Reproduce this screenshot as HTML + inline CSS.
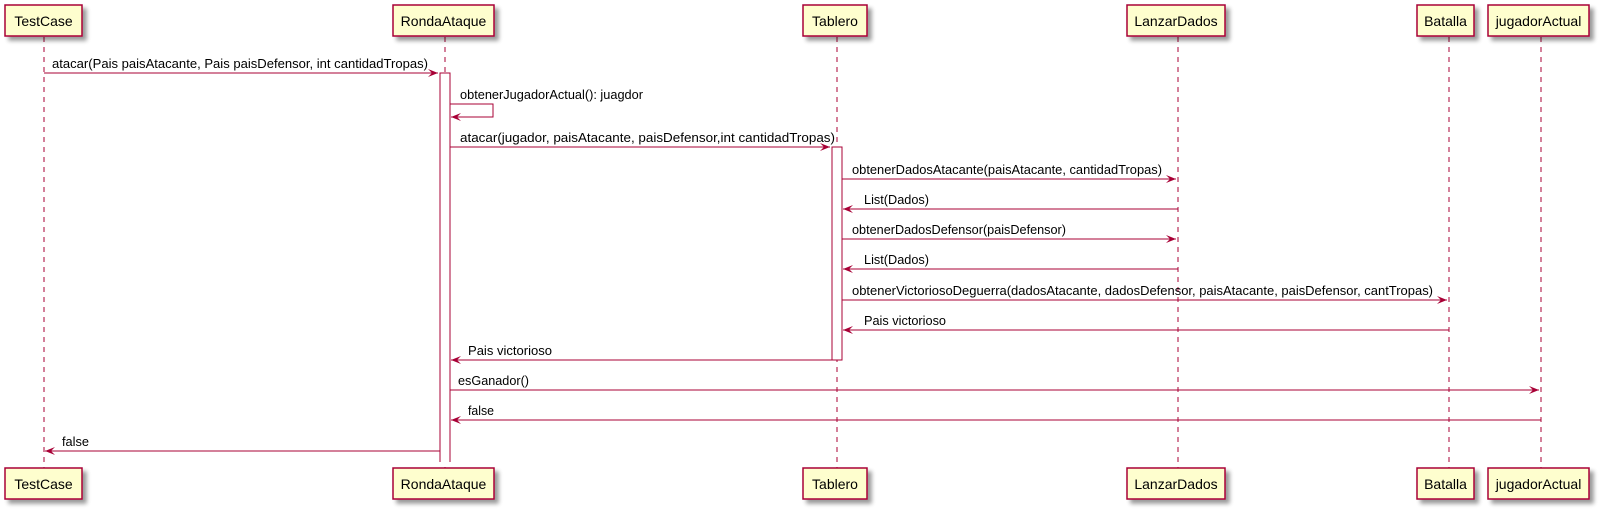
<!DOCTYPE html>
<html><head><meta charset="utf-8"><style>
html,body{margin:0;padding:0;background:#fff;}
svg{display:block;}
text{font-family:"Liberation Sans",sans-serif;fill:#000;}
</style></head><body>
<svg width="1602" height="512" viewBox="0 0 1602 512" xmlns="http://www.w3.org/2000/svg">
<defs>
<filter id="sh" x="-20%" y="-20%" width="150%" height="160%"><feGaussianBlur in="SourceAlpha" stdDeviation="2"/><feOffset dx="4" dy="4"/><feComponentTransfer><feFuncA type="linear" slope="0.4"/></feComponentTransfer><feMerge><feMergeNode/><feMergeNode in="SourceGraphic"/></feMerge></filter>
</defs>
<g stroke="#A80036" stroke-width="1" stroke-dasharray="5,5">
<line x1="44" y1="37" x2="44" y2="468"/>
<line x1="445" y1="37" x2="445" y2="468"/>
<line x1="837" y1="37" x2="837" y2="468"/>
<line x1="1178" y1="37" x2="1178" y2="468"/>
<line x1="1449" y1="37" x2="1449" y2="468"/>
<line x1="1541" y1="37" x2="1541" y2="468"/>
</g>
<g fill="#FEFECE" stroke="#A80036" stroke-width="1.5" filter="url(#sh)">
<rect x="5" y="5" width="77" height="31"/>
<rect x="393" y="5" width="101" height="31"/>
<rect x="803" y="5" width="64" height="31"/>
<rect x="1127" y="5" width="98" height="31"/>
<rect x="1417" y="5" width="57" height="31"/>
<rect x="1488" y="5" width="101" height="31"/>
<rect x="5" y="468" width="77" height="31"/>
<rect x="393" y="468" width="101" height="31"/>
<rect x="803" y="468" width="64" height="31"/>
<rect x="1127" y="468" width="98" height="31"/>
<rect x="1417" y="468" width="57" height="31"/>
<rect x="1488" y="468" width="101" height="31"/>
</g>
<g font-size="14" text-anchor="middle">
<text x="43.5" y="26">TestCase</text>
<text x="443.5" y="26">RondaAtaque</text>
<text x="835" y="26">Tablero</text>
<text x="1176" y="26">LanzarDados</text>
<text x="1445.5" y="26">Batalla</text>
<text x="1538.5" y="26">jugadorActual</text>
<text x="43.5" y="489">TestCase</text>
<text x="443.5" y="489">RondaAtaque</text>
<text x="835" y="489">Tablero</text>
<text x="1176" y="489">LanzarDados</text>
<text x="1445.5" y="489">Batalla</text>
<text x="1538.5" y="489">jugadorActual</text>
</g>
<rect x="440" y="73" width="10" height="390" fill="#fff"/>
<polyline points="440,462 440,73 450,73 450,462" fill="none" stroke="#A80036" stroke-width="1"/>
<rect x="832" y="147" width="10" height="213" fill="#fff" stroke="#A80036" stroke-width="1"/>
<g stroke="#A80036" stroke-width="1" fill="none">
<line x1="44" y1="73" x2="438" y2="73"/>
<polyline points="450,104 493,104 493,117 451,117"/>
<line x1="450" y1="147" x2="830" y2="147"/>
<line x1="842" y1="179" x2="1176" y2="179"/>
<line x1="843" y1="209" x2="1178" y2="209"/>
<line x1="842" y1="239" x2="1176" y2="239"/>
<line x1="843" y1="269" x2="1178" y2="269"/>
<line x1="842" y1="300" x2="1447" y2="300"/>
<line x1="843" y1="330" x2="1449" y2="330"/>
<line x1="451" y1="360" x2="832" y2="360"/>
<line x1="450" y1="390" x2="1539" y2="390"/>
<line x1="451" y1="420" x2="1541" y2="420"/>
<line x1="45" y1="451" x2="440" y2="451"/>
</g>
<g fill="#A80036">
<polygon points="438,73 428,69 432,73 428,77"/>
<polygon points="451,117 461,113 457,117 461,121"/>
<polygon points="830,147 820,143 824,147 820,151"/>
<polygon points="1176,179 1166,175 1170,179 1166,183"/>
<polygon points="843,209 853,205 849,209 853,213"/>
<polygon points="1176,239 1166,235 1170,239 1166,243"/>
<polygon points="843,269 853,265 849,269 853,273"/>
<polygon points="1447,300 1437,296 1441,300 1437,304"/>
<polygon points="843,330 853,326 849,330 853,334"/>
<polygon points="451,360 461,356 457,360 461,364"/>
<polygon points="1539,390 1529,386 1533,390 1529,394"/>
<polygon points="451,420 461,416 457,420 461,424"/>
<polygon points="45,451 55,447 51,451 55,455"/>
</g>
<g font-size="13">
<text x="52" y="68" textLength="376" lengthAdjust="spacingAndGlyphs">atacar(Pais paisAtacante, Pais paisDefensor, int cantidadTropas)</text>
<text x="460" y="99" textLength="183" lengthAdjust="spacingAndGlyphs">obtenerJugadorActual(): juagdor</text>
<text x="460" y="142" textLength="375" lengthAdjust="spacingAndGlyphs">atacar(jugador, paisAtacante, paisDefensor,int cantidadTropas)</text>
<text x="852" y="174" textLength="310" lengthAdjust="spacingAndGlyphs">obtenerDadosAtacante(paisAtacante, cantidadTropas)</text>
<text x="864" y="204" textLength="65" lengthAdjust="spacingAndGlyphs">List(Dados)</text>
<text x="852" y="234" textLength="214" lengthAdjust="spacingAndGlyphs">obtenerDadosDefensor(paisDefensor)</text>
<text x="864" y="264" textLength="65" lengthAdjust="spacingAndGlyphs">List(Dados)</text>
<text x="852" y="295" textLength="581" lengthAdjust="spacingAndGlyphs">obtenerVictoriosoDeguerra(dadosAtacante, dadosDefensor, paisAtacante, paisDefensor, cantTropas)</text>
<text x="864" y="325" textLength="82" lengthAdjust="spacingAndGlyphs">Pais victorioso</text>
<text x="468" y="355" textLength="84" lengthAdjust="spacingAndGlyphs">Pais victorioso</text>
<text x="458" y="385" textLength="71" lengthAdjust="spacingAndGlyphs">esGanador()</text>
<text x="468" y="415" textLength="26" lengthAdjust="spacingAndGlyphs">false</text>
<text x="62" y="446" textLength="27" lengthAdjust="spacingAndGlyphs">false</text>
</g>
</svg>
</body></html>
